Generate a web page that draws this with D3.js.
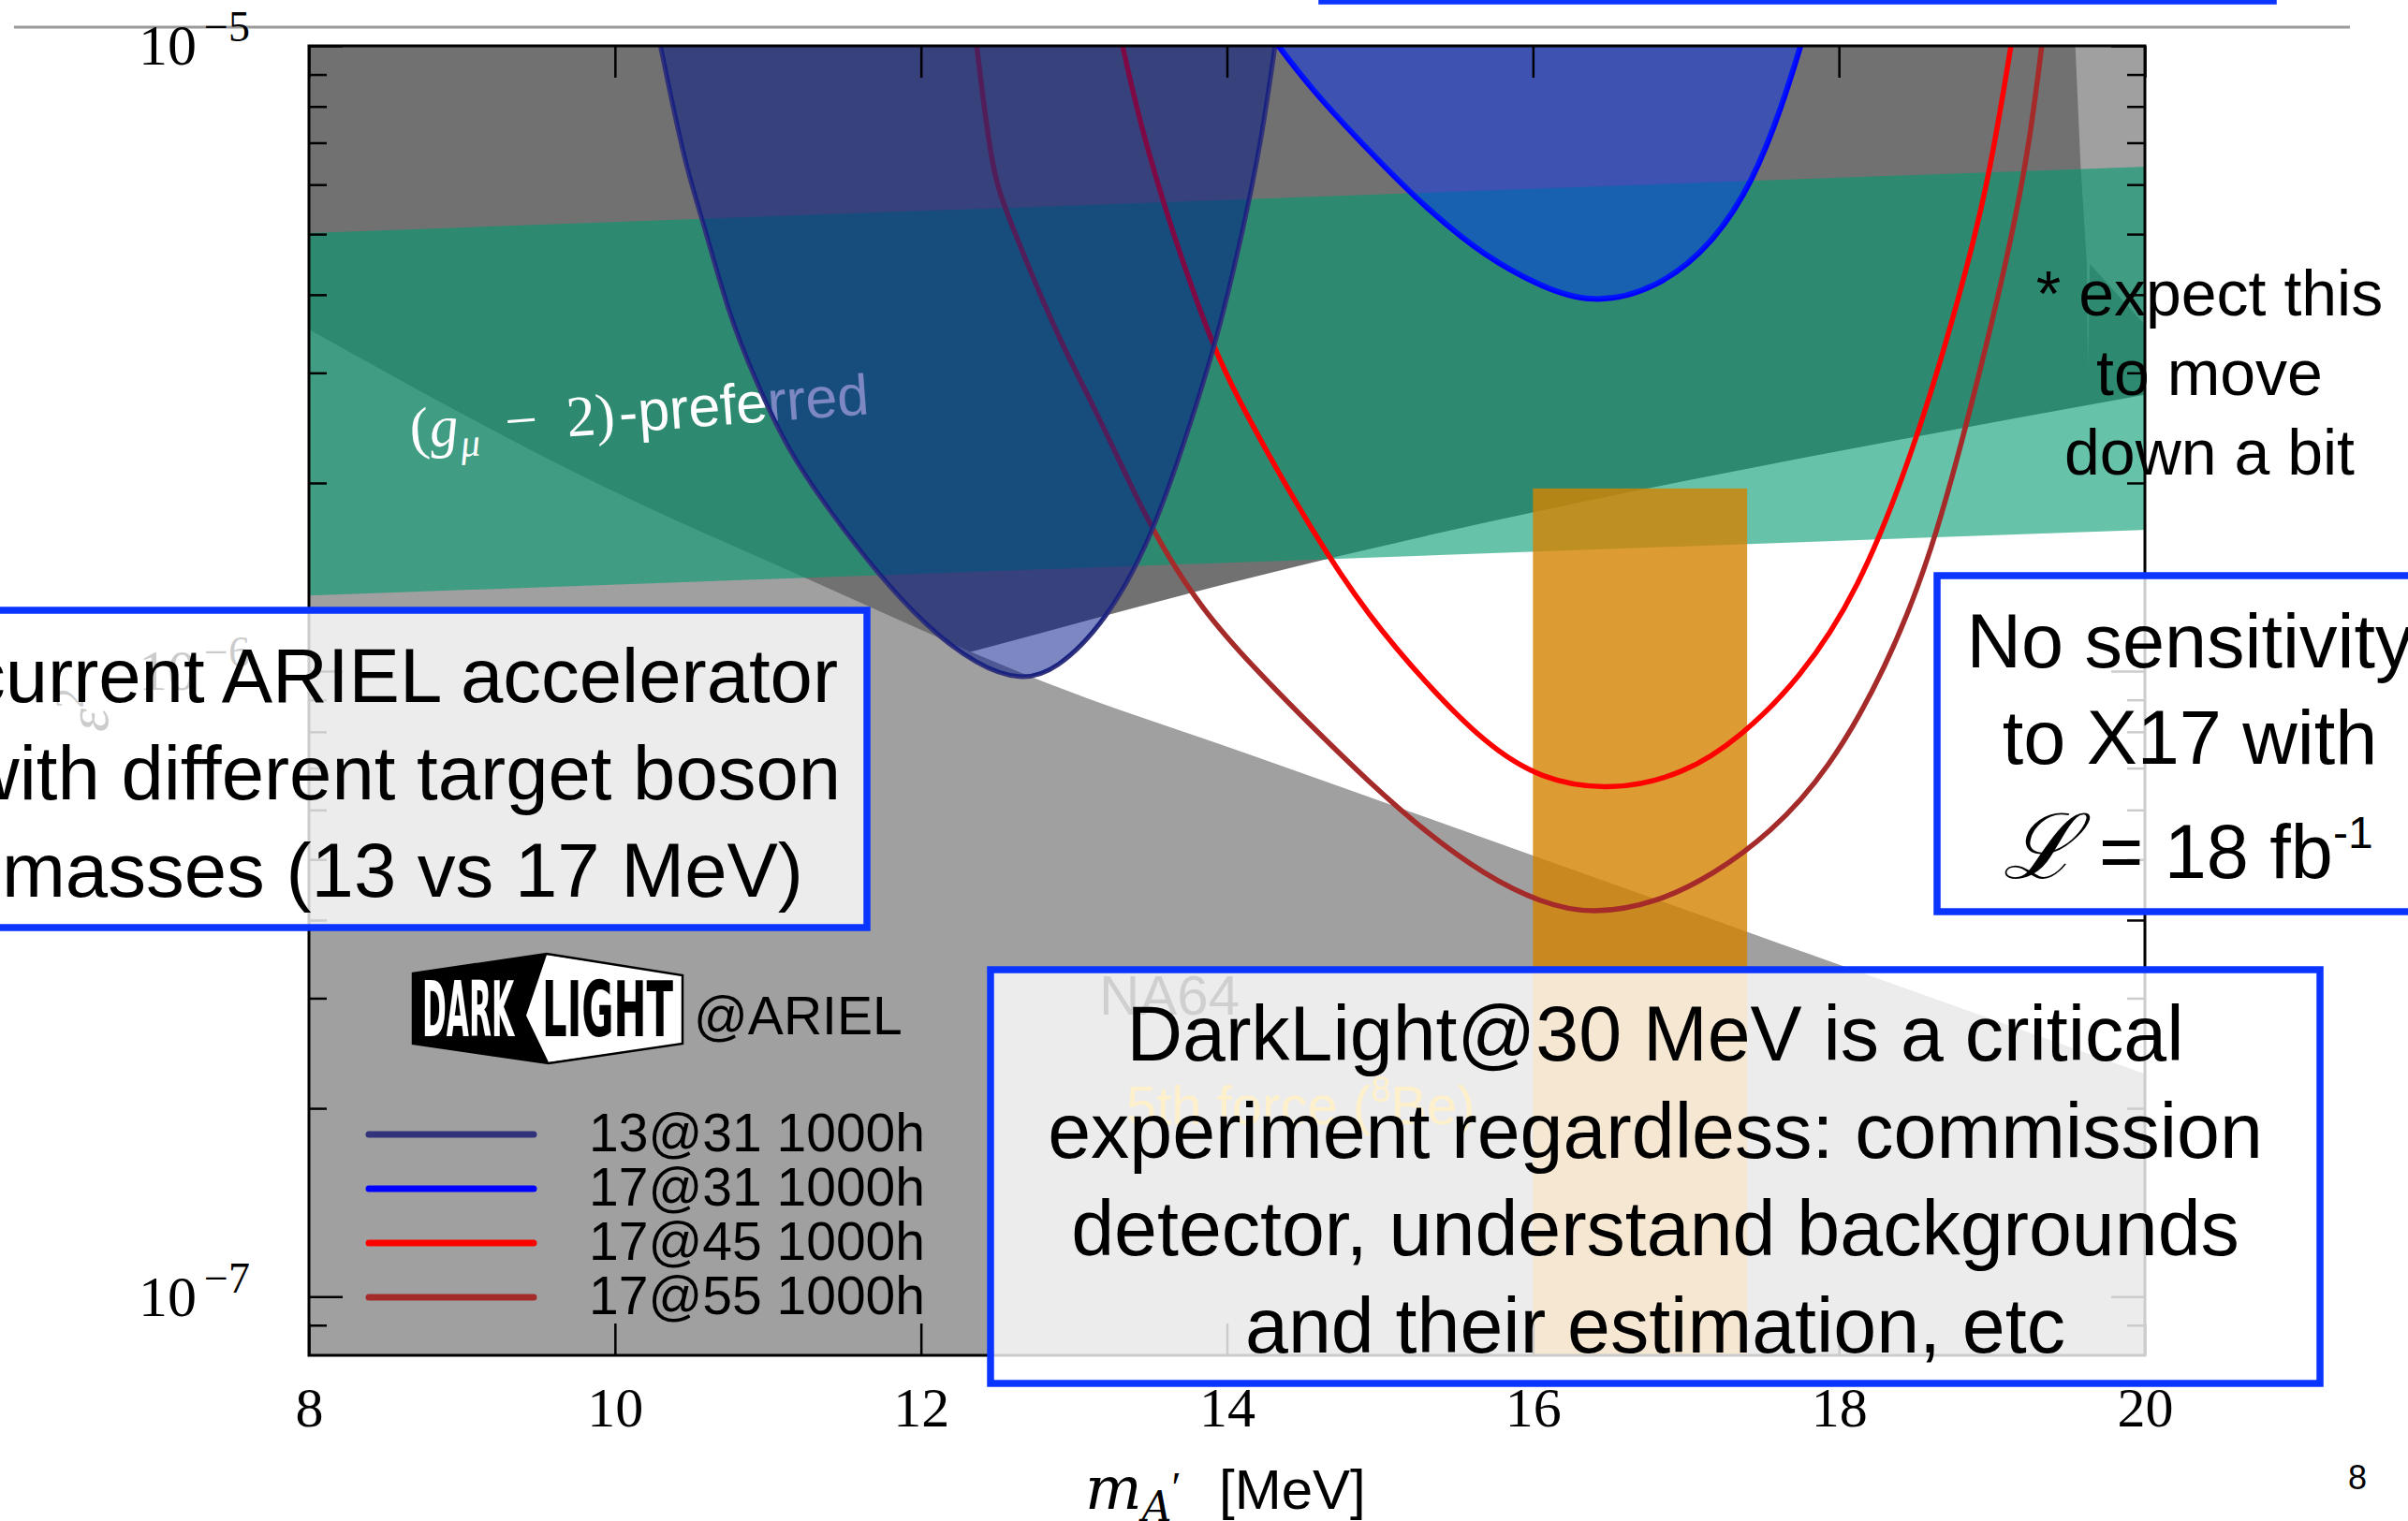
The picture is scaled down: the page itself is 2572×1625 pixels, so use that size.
<!DOCTYPE html>
<html>
<head>
<meta charset="utf-8">
<script src="https://cdn.jsdelivr.net/npm/d3@7"></script>
<style>
  html, body { margin: 0; padding: 0; background: #fff; }
  svg { display: block; }
</style>
</head>
<body>
<script>
// ---------------- data ----------------
const massTicks = [8, 10, 12, 14, 16, 18, 20];
const eps2Decades = [1e-7, 1e-6, 1e-5];
const eps2Minor = [9e-8, 2e-7, 3e-7, 4e-7, 5e-7, 6e-7, 7e-7, 8e-7, 9e-7,
                   2e-6, 3e-6, 4e-6, 5e-6, 6e-6, 7e-6, 8e-6, 9e-6];

// excluded regions (edge of each shaded area)
const na64Mass = [8, 9.897, 11.188, 12.816, 14.18, 17.479, 20];
const na64Edge = [3.52e-6, 1.99e-6, 1.43e-6, 9.59e-7, 7.31e-7, 3.77e-7, 2.27e-7];
const upperMass = [8, 12.37, 14.18, 20];
const upperEdge = [5.62e-7, 1.081e-6, 1.416e-6, 2.767e-6];
const dumpMass = [19.545, 19.58, 19.62, 19.627, 19.64, 20.0];
const dumpEdge = [1.0e-5, 6.41e-6, 4.51e-6, 3.05e-6, 4.48e-6, 3.58e-6];

// (g-2) muon preferred band
const gm2Mass = [8, 20];
const gm2Upper = [5.02e-6, 6.41e-6];
const gm2Lower = [1.321e-6, 1.683e-6];

// 8Be fifth-force window
const x17Mass = [16.0, 17.4];
const x17Top = 1.96e-6;

// DarkLight@ARIEL projected reach
const seriesNames = ["13@31 1000h", "17@31 1000h", "17@45 1000h", "17@55 1000h"];
const seriesColors = ["#32337a", "#0000ff", "#ff0000", "#a52a2a"];

const mass1331 = [10.29, 10.46, 10.57, 10.74, 10.91, 11.13, 11.42, 11.70, 12.03, 12.37,
                  12.65, 12.88, 13.21, 13.50, 13.72, 13.94, 14.11, 14.22, 14.32];
const eps1331 = [1.02e-5, 6.41e-6, 5.31e-6, 3.74e-6, 2.95e-6, 2.25e-6, 1.78e-6, 1.45e-6, 1.18e-6, 1.02e-6,
                 9.66e-7, 1.00e-6, 1.20e-6, 1.62e-6, 2.31e-6, 3.41e-6, 5.14e-6, 6.93e-6, 1.02e-5];

const mass1731 = [14.31, 14.55, 14.93, 15.31, 15.68, 16.05, 16.39, 16.81, 17.18, 17.44, 17.63, 17.76];
const eps1731 = [1.02e-5, 8.53e-6, 6.78e-6, 5.47e-6, 4.62e-6, 4.12e-6, 3.86e-6, 4.08e-6, 4.83e-6,
                 6.08e-6, 8.02e-6, 1.02e-5];

const mass1745 = [13.31, 13.43, 13.64, 13.83, 13.94, 14.11, 14.55, 14.93, 15.31, 15.68,
                  16.05, 16.52, 16.99, 17.36, 17.74, 18.12, 18.49, 18.79, 18.98, 19.13];
const eps1745 = [1.02e-5, 7.52e-6, 5.06e-6, 3.74e-6, 3.19e-6, 2.61e-6, 1.68e-6, 1.22e-6, 9.51e-7, 7.69e-7,
                 6.70e-7, 6.43e-7, 6.84e-7, 7.85e-7, 9.70e-7, 1.33e-6, 2.25e-6, 3.98e-6, 6.08e-6, 1.02e-5];

const mass1755 = [12.36, 12.46, 12.54, 12.71, 12.90, 13.16, 13.38, 13.55, 13.83, 14.18,
                  14.55, 14.93, 15.31, 15.68, 16.05, 16.39, 16.81, 17.18, 17.55, 17.93,
                  18.31, 18.61, 18.86, 19.09, 19.24, 19.33];
const eps1755 = [1.02e-5, 6.41e-6, 5.57e-6, 4.39e-6, 3.41e-6, 2.56e-6, 1.96e-6, 1.62e-6, 1.26e-6, 1.01e-6,
                 8.18e-7, 6.64e-7, 5.50e-7, 4.73e-7, 4.26e-7, 4.08e-7, 4.26e-7, 4.73e-7, 5.50e-7, 6.92e-7,
                 1.01e-6, 1.55e-6, 2.62e-6, 4.44e-6, 6.78e-6, 1.02e-5];

// slide annotations
const leftBoxLines = ["current ARIEL accelerator", "with different target boson", "masses (13 vs 17 MeV)"];
const bottomBoxLines = ["DarkLight@30 MeV is a critical", "experiment regardless: commission",
                        "detector, understand backgrounds", "and their estimation, etc"];
const noteLines = ["* expect this", "to move", "down a bit"];

// ---------------- drawing ----------------
const W = 2572, H = 1625;
const P = { left: 330, right: 2291, top: 49, bottom: 1448 };
const SANS = "'Liberation Sans', Arial, Helvetica, sans-serif";
const SERIF = "'Liberation Serif', 'DejaVu Serif', serif";
const BOXBLUE = "#0a34ff";

const x = d3.scaleLinear().domain([8, 20]).range([P.left, P.right]);
const y = d3.scaleLog().domain([Math.pow(10, -7.094), 1e-5]).range([P.bottom, P.top]);

const svg = d3.select("body").append("svg").attr("width", W).attr("height", H);
svg.append("rect").attr("width", W).attr("height", H).attr("fill", "#fff");

// header rule and the edge of the title box
svg.append("line").attr("x1", 15).attr("x2", 2510).attr("y1", 29).attr("y2", 29)
  .attr("stroke", "#9a9a9a").attr("stroke-width", 3);
svg.append("rect").attr("x", 1412).attr("y", -60).attr("width", 1016).attr("height", 61)
  .attr("fill", "none").attr("stroke", BOXBLUE).attr("stroke-width", 7.5);

svg.append("defs").append("clipPath").attr("id", "plotclip")
  .append("rect").attr("x", P.left).attr("y", P.top)
  .attr("width", P.right - P.left).attr("height", P.bottom - P.top);

const g = svg.append("g").attr("clip-path", "url(#plotclip)");

const zip = (ms, es) => ms.map((m, i) => [m, es[i]]);

// upper excluded region (dark grey)
g.append("path")
  .datum(zip(upperMass, upperEdge))
  .attr("d", d3.area().x(d => x(d[0])).y0(P.top - 20).y1(d => y(d[1])).curve(d3.curveMonotoneX))
  .attr("fill", "#717171");

// beam-dump corner (light grey)
g.append("path")
  .datum(zip(dumpMass, dumpEdge))
  .attr("d", d3.area().x(d => x(d[0])).y0(P.top - 20).y1(d => y(d[1])))
  .attr("fill", "#a0a0a0");

// NA64 (light grey)
g.append("path")
  .datum(zip(na64Mass, na64Edge))
  .attr("d", d3.area().x(d => x(d[0])).y0(P.bottom + 20).y1(d => y(d[1])).curve(d3.curveMonotoneX))
  .attr("fill", "#a0a0a0");

// (g-2) preferred band
g.append("path")
  .datum(gm2Mass.map((m, i) => [m, gm2Lower[i], gm2Upper[i]]))
  .attr("d", d3.area().x(d => x(d[0])).y0(d => y(d[1])).y1(d => y(d[2])))
  .attr("fill", "rgb(0,155,112)").attr("fill-opacity", 0.6);

// 8Be window
g.append("rect")
  .attr("x", x(x17Mass[0])).attr("width", x(x17Mass[1]) - x(x17Mass[0]))
  .attr("y", y(x17Top)).attr("height", P.bottom + 10 - y(x17Top))
  .attr("fill", "rgb(212,130,0)").attr("fill-opacity", 0.8);

// region labels
const gm2Label = g.append("g").attr("transform", "translate(439,479) rotate(-4.3)")
  .attr("fill", "#fff");
const gl = gm2Label.append("text").attr("font-size", 62).attr("font-family", SERIF);
gl.append("tspan").attr("x", 0).text("(");
gl.append("tspan").attr("x", 21).attr("font-style", "italic").text("g");
gl.append("tspan").attr("x", 53).attr("dy", 13).attr("font-size", 42).attr("font-style", "italic").text("μ");
gl.append("tspan").attr("x", 102).attr("dy", -13).text("\u2212");
gl.append("tspan").attr("x", 168).text("2)");
gl.append("tspan").attr("x", 224).attr("font-family", SANS).attr("font-size", 61).text("-preferred");

g.append("text").attr("x", 1174).attr("y", 1084).attr("font-family", SANS).attr("font-size", 60)
  .attr("fill", "#111").text("NA64");
const fifth = g.append("text").attr("x", 1203).attr("y", 1201).attr("font-family", SANS)
  .attr("font-size", 58).attr("fill", "#ffb400");
fifth.append("tspan").text("5th force (");
fifth.append("tspan").attr("dy", -24).attr("font-size", 38).text("8");
fifth.append("tspan").attr("dy", 24).text("Be)");

// projection curves
const line = d3.line().x(d => x(d[0])).y(d => y(d[1])).curve(d3.curveBasis);
const curve = (ms, es, color, w) =>
  g.append("path").datum(zip(ms, es)).attr("d", line)
    .attr("fill", "none").attr("stroke", color).attr("stroke-width", w)
    .attr("stroke-linejoin", "round");

curve(mass1745, eps1745, seriesColors[2], 5.5);
curve(mass1755, eps1755, seriesColors[3], 5.5);
curve(mass1331, eps1331, seriesColors[0], 5);
g.append("path").datum(zip(mass1331, eps1331)).attr("d", line)
  .attr("fill", "rgb(0,20,136)").attr("fill-opacity", 0.51);
curve(mass1731, eps1731, seriesColors[1], 6);
g.append("path").datum(zip(mass1731, eps1731)).attr("d", line)
  .attr("fill", "rgb(0,44,255)").attr("fill-opacity", 0.45);

// frame and axes
const axes = svg.append("g");
const styleAxis = sel => {
  sel.select(".domain").remove();
  sel.selectAll(".tick line").attr("stroke", "#000").attr("stroke-width", 2.5);
};
axes.append("g").attr("transform", `translate(0,${P.bottom})`)
  .call(d3.axisBottom(x).tickValues(massTicks).tickSize(-34).tickPadding(33).tickFormat(d3.format("d")))
  .call(styleAxis)
  .call(s => s.selectAll(".tick text").attr("font-size", 60).attr("font-family", SERIF).attr("fill", "#000"));
axes.append("g").attr("transform", `translate(0,${P.top})`)
  .call(d3.axisTop(x).tickValues(massTicks).tickSize(-34).tickFormat(""))
  .call(styleAxis);
axes.append("g").attr("transform", `translate(${P.left},0)`)
  .call(d3.axisLeft(y).tickValues(eps2Minor).tickSize(-19).tickFormat(""))
  .call(styleAxis);
axes.append("g").attr("transform", `translate(${P.right},0)`)
  .call(d3.axisRight(y).tickValues(eps2Minor).tickSize(-19).tickFormat(""))
  .call(styleAxis);
axes.append("g").attr("transform", `translate(${P.right},0)`)
  .call(d3.axisRight(y).tickValues(eps2Decades).tickSize(-36).tickFormat(""))
  .call(styleAxis);
axes.append("g").attr("transform", `translate(${P.left},0)`)
  .call(d3.axisLeft(y).tickValues(eps2Decades).tickSize(-36).tickPadding(63).tickFormat(""))
  .call(styleAxis)
  .call(s => s.selectAll(".tick text").each(function (d) {
    const t = d3.select(this).attr("font-size", 62).attr("font-family", SERIF).attr("fill", "#000");
    const e = Math.round(Math.log10(d));
    t.append("tspan").text("10");
    t.append("tspan").attr("dx", 8).attr("dy", -25).attr("font-size", 46).text("\u2212" + Math.abs(e));
  }));
axes.append("rect").attr("x", P.left).attr("y", P.top)
  .attr("width", P.right - P.left).attr("height", P.bottom - P.top)
  .attr("fill", "none").attr("stroke", "#000").attr("stroke-width", 3);

// axis titles
const MATH = "'DejaVu Serif', 'Liberation Serif', serif";
const xt = svg.append("text").attr("x", 1159).attr("y", 1612).attr("font-family", MATH).attr("font-size", 64);
xt.append("tspan").attr("font-style", "italic").text("m");
xt.append("tspan").attr("dy", 13).attr("font-size", 44).attr("font-style", "italic").text("A");
xt.append("tspan").attr("dy", -20).attr("font-size", 46).attr("font-family", SERIF).text("\u2032");
xt.append("tspan").attr("x", 1302).attr("dy", 7).attr("font-family", SANS).attr("font-size", 60).text("[MeV]");

const yt = svg.append("text").attr("transform", "translate(115,782) rotate(-90)")
  .attr("font-family", SERIF).attr("font-size", 64);
yt.append("tspan").attr("font-style", "italic").text("ε");
yt.append("tspan").attr("dy", -26).attr("font-size", 44).text("2");

// DarkLight badge and legend
const badge = svg.append("g");
const outer = [[441, 1040], [584, 1019], [729, 1042], [729, 1115], [586, 1136], [441, 1115]];
const white = [[584, 1020], [729, 1042], [729, 1115], [586, 1135], [562, 1085]];
badge.append("polygon").attr("points", outer.join(" ")).attr("fill", "#000");
badge.append("polygon").attr("points", white.join(" ")).attr("fill", "#fff");
badge.append("polygon").attr("points", outer.join(" ")).attr("fill", "none")
  .attr("stroke", "#000").attr("stroke-width", 2.5);
const NARROW = "'Liberation Sans Narrow', 'DejaVu Sans Condensed', 'Liberation Sans', sans-serif";
badge.append("text").attr("x", 451).attr("y", 1107).attr("font-family", NARROW).attr("font-weight", "bold")
  .attr("font-size", 82).attr("fill", "#fff").attr("textLength", 98).attr("lengthAdjust", "spacingAndGlyphs")
  .text("DARK");
badge.append("text").attr("x", 579).attr("y", 1107).attr("font-family", NARROW).attr("font-weight", "bold")
  .attr("font-size", 82).attr("fill", "#000").attr("textLength", 140).attr("lengthAdjust", "spacingAndGlyphs")
  .text("LIGHT");
badge.append("text").attr("x", 741).attr("y", 1105).attr("font-family", SANS).attr("font-size", 57)
  .attr("fill", "#000").text("@ARIEL");

const legendRowY = [1212, 1270, 1328, 1386];
const legend = svg.append("g");
seriesNames.forEach((name, i) => {
  legend.append("line").attr("x1", 394).attr("x2", 570).attr("y1", legendRowY[i]).attr("y2", legendRowY[i])
    .attr("stroke", seriesColors[i]).attr("stroke-width", 7).attr("stroke-linecap", "round");
  legend.append("text").attr("x", 629).attr("y", legendRowY[i] + 18).attr("font-family", SANS)
    .attr("font-size", 57).attr("fill", "#000").text(name);
});

// annotation boxes
const box = (bx, by, bw, bh) => svg.append("rect").attr("x", bx).attr("y", by).attr("width", bw).attr("height", bh)
  .attr("fill", "#fff").attr("fill-opacity", 0.8).attr("stroke", BOXBLUE).attr("stroke-width", 7.5);

box(-100, 652, 1026, 339);
leftBoxLines.forEach((s, i) => svg.append("text").attr("x", 430).attr("y", 750 + i * 104)
  .attr("text-anchor", "middle").attr("font-family", SANS).attr("font-size", 81.5).attr("fill", "#000").text(s));

box(1058, 1036, 1420, 442);
bottomBoxLines.forEach((s, i) => svg.append("text").attr("x", 1768).attr("y", 1133 + i * 104)
  .attr("text-anchor", "middle").attr("font-family", SANS).attr("font-size", 82.5).attr("fill", "#000").text(s));

box(2069, 615, 620, 359);
svg.append("text").attr("x", 2339).attr("y", 713).attr("text-anchor", "middle")
  .attr("font-family", SANS).attr("font-size", 81).text("No sensitivity");
svg.append("text").attr("x", 2339).attr("y", 816).attr("text-anchor", "middle")
  .attr("font-family", SANS).attr("font-size", 81).text("to X17 with");
const lum = svg.append("text").attr("x", 2337).attr("y", 938).attr("text-anchor", "middle")
  .attr("font-family", SANS).attr("font-size", 81);
lum.append("tspan").attr("font-family", "'DejaVu Serif', serif").attr("font-style", "italic").attr("font-size", 96).text("ℒ");
lum.append("tspan").text(" = 18 fb");
lum.append("tspan").attr("dy", -32).attr("font-size", 48).text("-1");

noteLines.forEach((s, i) => svg.append("text").attr("x", 2360).attr("y", 337 + i * 85)
  .attr("text-anchor", "middle").attr("font-family", SANS).attr("font-size", 68).attr("fill", "#000").text(s));

svg.append("text").attr("x", 2518).attr("y", 1591).attr("text-anchor", "middle")
  .attr("font-family", SANS).attr("font-size", 36).text("8");
</script>
</body>
</html>
